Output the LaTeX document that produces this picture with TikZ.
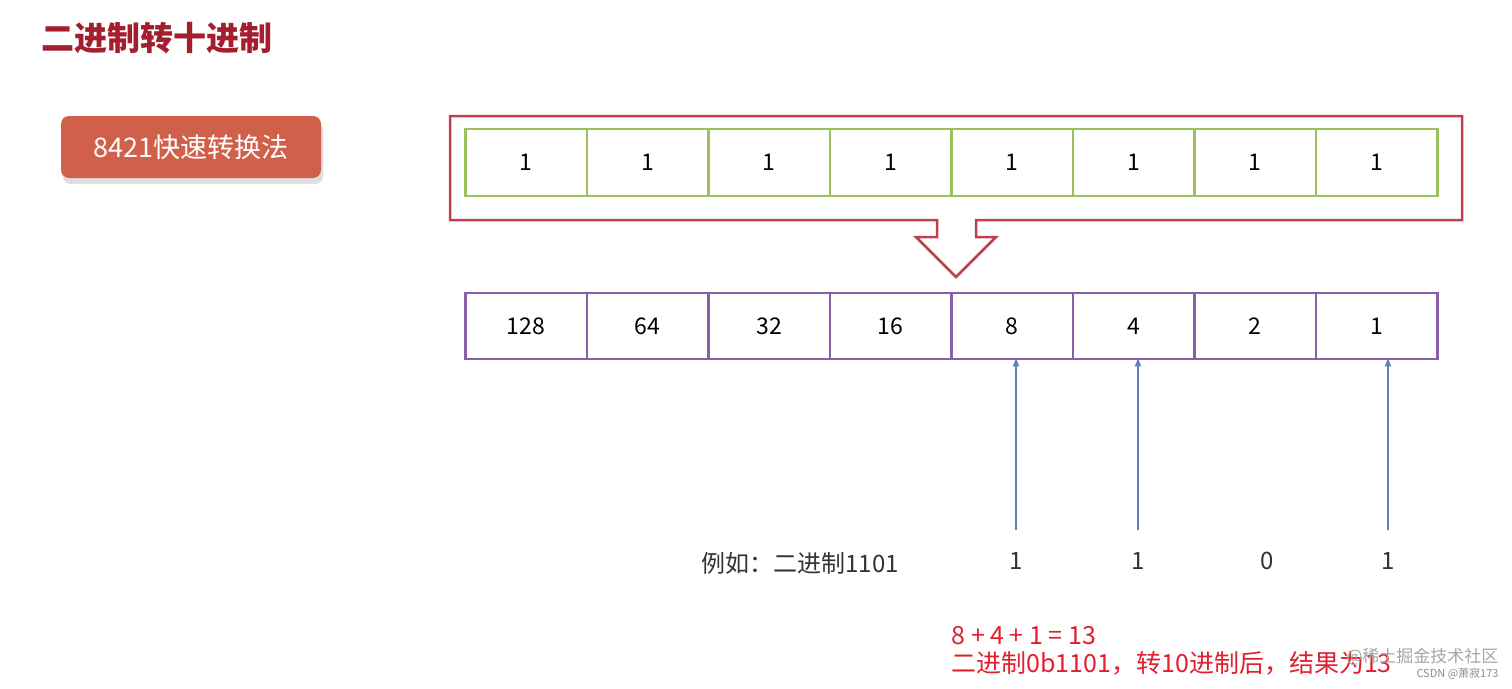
\documentclass[tikz,border=0pt]{standalone}
\usepackage{fontspec}
\setmainfont{Noto Sans CJK SC}
\usetikzlibrary{shadows,arrows.meta}
\definecolor{titred}{HTML}{A31F2E}
\definecolor{btn}{HTML}{D0604A}
\definecolor{boxred}{HTML}{C0404F}
\definecolor{cgreen}{HTML}{9CC15A}
\definecolor{cpurple}{HTML}{8A5FAA}
\definecolor{ablue}{HTML}{5A85B8}
\definecolor{tred}{HTML}{E0202E}
\tikzset{
 gcell/.style={draw=cgreen,line width=2.5pt,minimum width=121.5pt,minimum height=67pt,inner sep=0,font=\fontsize{23}{26}\selectfont},
 pcell/.style={draw=cpurple,line width=2.5pt,minimum width=121.5pt,minimum height=66pt,inner sep=0,font=\fontsize{23}{26}\selectfont},
 lbl/.style={font=\fontsize{24}{28}\selectfont,text=black!80},
 upar/.style={draw=ablue,line width=1.3pt,-{Latex[length=9pt,width=7pt]}}
}
\begin{document}
\begin{tikzpicture}[x=1pt,y=-1pt]
\useasboundingbox (0,0) rectangle (1512,688);
\fill[white] (0,0) rectangle (1512,688);
\node[anchor=west,text=titred,font=\fontsize{33}{38}\selectfont\bfseries] (title) at (38,38) {二进制转十进制};
\node[fill=btn,rounded corners=8pt,minimum width=260pt,minimum height=62pt,text=white,font=\fontsize{27}{30}\selectfont,drop shadow={shadow xshift=2pt,shadow yshift=-6pt,fill=black!25,opacity=0.5}] (btn) at (191,147) {8421快速转换法};
\draw[boxred,line width=2.5pt,line join=miter] (937,220) -- (450,220) -- (450,116) -- (1462,116) -- (1462,220) -- (976,220) -- (976,237) -- (996,237) -- (956,277) -- (916,237) -- (937,237) -- cycle;
\foreach \i in {0,...,7}{
 \node[gcell] (g\i) at ({526+121.5*\i},162.5) {1};
}
\foreach \v [count=\i from 0] in {128,64,32,16,8,4,2,1}{
 \node[pcell] (p\i) at ({526+121.5*\i},326) {\v};
}
\node[lbl,anchor=west] (ex) at (698,563) {例如：二进制1101};
\node[lbl] (b4) at (1016,561) {1};
\node[lbl] (b5) at (1138,561) {1};
\node[lbl] (b6) at (1267,561) {0};
\node[lbl] (b7) at (1388,561) {1};
\coordinate (c4) at (1016,530);
\coordinate (c5) at (1138,530);
\coordinate (c7) at (1388,530);
\draw[upar] (c4) -- ([yshift=3pt]p4.south -| c4);
\draw[upar] (c5) -- ([yshift=3pt]p5.south -| c5);
\draw[upar] (c7) -- ([yshift=3pt]p7.south -| c7);
\node[anchor=west,text=tred,font=\fontsize{25}{28}\selectfont] (r1) at (948,636) {8 + 4 + 1 = 13};
\node[anchor=west,text=tred,font=\fontsize{25}{28}\selectfont] (r2) at (948,663) {二进制0b1101，转10进制后，结果为13};
\node[anchor=east,text=black!35,font=\fontsize{17}{20}\selectfont] (w1) at (1502,657) {@稀土掘金技术社区};
\node[anchor=east,text=black!45,font=\fontsize{11}{13}\selectfont] (w2) at (1502,674) {CSDN @萧寂173};
\end{tikzpicture}
\end{document}
